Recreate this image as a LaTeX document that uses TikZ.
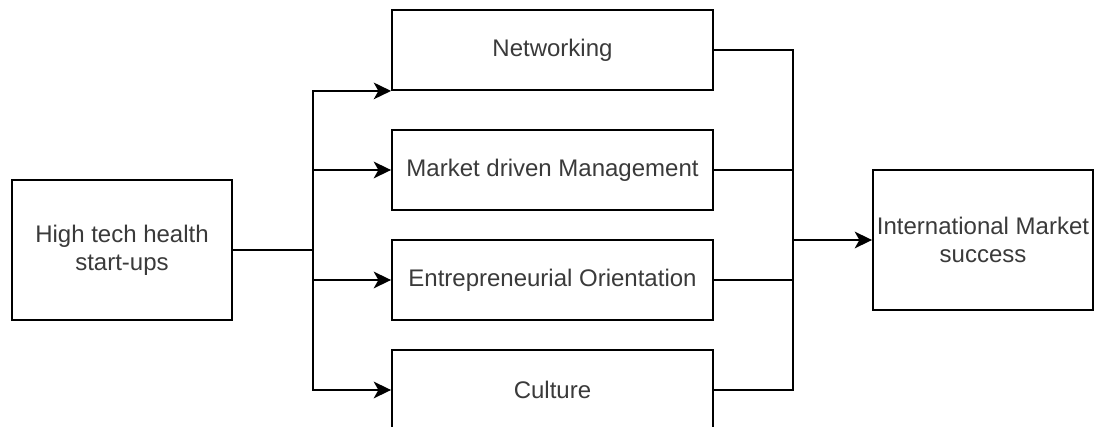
\documentclass[tikz,border=0pt]{standalone}
\usepackage{fontspec}
\setmainfont{Liberation Sans}
\usetikzlibrary{arrows.meta}
\definecolor{txt}{HTML}{3A3A3A}
\begin{document}
\begin{tikzpicture}[x=0.75pt,y=-0.75pt,
  box/.style={draw=black,line width=1.4pt,fill=white,inner sep=0pt,align=center,
    text=txt,font=\fontsize{18}{21}\selectfont},
  bigbox/.style={box,minimum width=165pt,minimum height=105pt},
  midbox/.style={box,minimum width=240.75pt,minimum height=60pt},
  conn/.style={draw=black,line width=1.4pt},
  arr/.style={conn,-{Stealth[length=13pt,width=12.5pt,inset=3.5pt]}}]
\useasboundingbox (0,0) rectangle (1096,427);
\begin{scope}
\clip (0,0) rectangle (1096,427);
\node[bigbox] (hts) at (122,250) {High tech health\\start-ups};
\node[midbox] (net) at (552.5,50) {Networking};
\node[midbox] (mdm) at (552.5,170) {Market driven Management};
\node[midbox] (eo) at (552.5,280) {Entrepreneurial Orientation};
\node[midbox] (cul) at (552.5,390) {Culture};
\node[bigbox] (ims) at (983,240) {International Market\\success};
\coordinate (b0) at (313,250);
\coordinate (r0) at (793,240);
\draw[conn] (hts.east) -- (b0);
\draw[arr] (b0) |- (net.south west);
\draw[arr] (b0) |- (mdm.west);
\draw[arr] (b0) |- (eo.west);
\draw[arr] (b0) |- (cul.west);
\draw[conn] (net.east) -| (r0);
\draw[conn] (mdm.east) -| (r0);
\draw[conn] (eo.east) -| (r0);
\draw[conn] (cul.east) -| (r0);
\draw[arr] (r0) -- (ims.west);
\end{scope}
\end{tikzpicture}
\end{document}
